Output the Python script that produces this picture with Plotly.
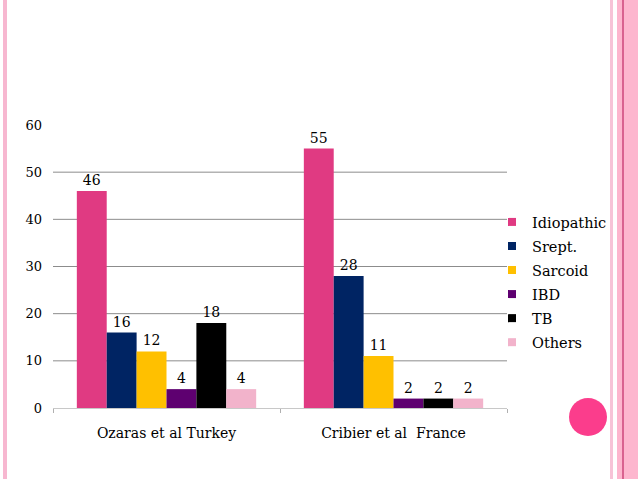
import plotly.graph_objs as go

# chart data
studies = ["Ozaras et al Turkey", "Cribier et al  France"]
causes = ["Idiopathic", "Srept.", "Sarcoid", "IBD", "TB", "Others"]
idiopathic = [46, 55]
srept = [16, 28]
sarcoid = [12, 11]
ibd = [4, 2]
tb = [18, 2]
others = [4, 2]
y_ticks = [0, 10, 20, 30, 40, 50, 60]

series = [idiopathic, srept, sarcoid, ibd, tb, others]
colors = ["#e03a82", "#002463", "#ffc000", "#5e0070", "#000000", "#f2b3cb"]

W, H = 638, 479
L, R, T, B = 53, 638 - 507, 125, 479 - 408
pw, ph = W - L - R, H - T - B


def px_x(p):
    """pixel -> paper x"""
    return (p - L) / float(pw)


def px_y(p):
    """pixel -> paper y"""
    return (H - B - p) / float(ph)


font = "DejaVu Serif"

traces = []
for name, vals, col in zip(causes, series, colors):
    traces.append(go.Bar(
        x=studies, y=vals, name=name, showlegend=False,
        marker=dict(color=col, line=dict(width=0)),
        text=vals, textposition="outside", cliponaxis=False,
        textfont=dict(family=font, size=14, color="#000000"),
    ))
    # small square legend keys like the slide
    traces.append(go.Scatter(
        x=[None], y=[None], mode="markers", name=name, legendgroup=name,
        marker=dict(symbol="square", size=8, color=col),
    ))

shapes = []
# grid lines (no line at the top tick)
for v in y_ticks[1:-1]:
    shapes.append(dict(type="line", xref="paper", yref="y", x0=0, x1=1, y0=v, y1=v,
                       line=dict(color="#8c8c8c", width=1), layer="below"))

# slide decoration
deco = [(3, 7, "#f7b7d0"), (610, 613, "#f7c3d7"), (617, 638, "#fdb6ce"), (622, 624, "#d9628f")]
for a, b, c in deco:
    shapes.append(dict(type="rect", xref="paper", yref="paper",
                       x0=px_x(a), x1=px_x(b), y0=px_y(H), y1=px_y(0),
                       fillcolor=c, line=dict(width=0), layer="above"))
shapes.append(dict(type="circle", xref="paper", yref="paper",
                   x0=px_x(569), x1=px_x(607), y0=px_y(436), y1=px_y(398),
                   fillcolor="#fb3d8c", line=dict(width=0)))

layout = go.Layout(
    width=W, height=H,
    margin=dict(l=L, r=R, t=T, b=B),
    paper_bgcolor="white", plot_bgcolor="white",
    bargap=0.21, bargroupgap=0,
    font=dict(family=font, size=13, color="#000000"),
    showlegend=True,
    legend=dict(x=px_x(492), y=px_y(206), xanchor="left", yanchor="top",
                font=dict(family=font, size=14.5), tracegroupgap=2.2,
                traceorder="grouped", itemwidth=30, bgcolor="rgba(0,0,0,0)"),
    xaxis=dict(showgrid=False, showline=True, linecolor="#c8c8c8", linewidth=1,
               ticks="outside", tickson="boundaries", ticklen=4, tickcolor="#b0b0b0",
               ticklabelstandoff=12, tickfont=dict(family=font, size=14)),
    yaxis=dict(range=[0, 60], tickvals=y_ticks, showgrid=False, zeroline=False,
               showline=False, ticks="", ticklabelstandoff=10,
               tickfont=dict(family=font, size=13)),
    shapes=shapes,
)

fig = go.Figure(data=traces, layout=layout)
# drop the default 8px page margin so the slide fills the window
fig.write_html("out.html", config={"displayModeBar": False},
               post_script="document.body.style.margin='0';")
